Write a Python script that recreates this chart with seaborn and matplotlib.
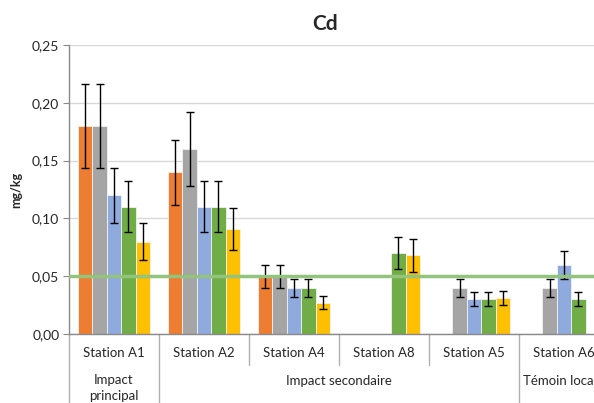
import numpy as np
import pandas as pd
import matplotlib
matplotlib.use("Agg")
import matplotlib.pyplot as plt
import seaborn as sns

stations = ["Station A1", "Station A2", "Station A4", "Station A8", "Station A5", "Station A6"]
series = ["S1", "S2", "S3", "S4", "S5"]
colors = ["#ED7D31", "#A5A5A5", "#8FAADC", "#70AD47", "#FFC000"]

v_s1 = [0.18, 0.14, 0.05, np.nan, np.nan, np.nan]
v_s2 = [0.18, 0.16, 0.05, np.nan, 0.04, 0.04]
v_s3 = [0.12, 0.11, 0.04, np.nan, 0.03, 0.06]
v_s4 = [0.11, 0.11, 0.04, 0.07, 0.03, 0.03]
v_s5 = [0.08, 0.091, 0.027, 0.068, 0.031, np.nan]

e_s1 = [0.036, 0.028, 0.010, np.nan, np.nan, np.nan]
e_s2 = [0.036, 0.032, 0.010, np.nan, 0.008, 0.008]
e_s3 = [0.024, 0.022, 0.008, np.nan, 0.006, 0.012]
e_s4 = [0.022, 0.022, 0.008, 0.014, 0.006, 0.006]
e_s5 = [0.016, 0.018, 0.0055, 0.014, 0.006, np.nan]

groups = ["Impact\nprincipal", "Impact secondaire", "Témoin local"]
group_spans = [(0, 0), (1, 4), (5, 5)]
threshold = 0.05
yticks = [0.0, 0.05, 0.10, 0.15, 0.20, 0.25]
ytick_labels = ["0,00", "0,05", "0,10", "0,15", "0,20", "0,25"]

vals = [v_s1, v_s2, v_s3, v_s4, v_s5]
errs = [e_s1, e_s2, e_s3, e_s4, e_s5]
rows = []
for s, vv, ee in zip(series, vals, errs):
    for st, v, e in zip(stations, vv, ee):
        rows.append({"station": st, "serie": s, "value": v, "err": e})
df = pd.DataFrame(rows)

sns.set_style("white")
plt.rcParams["font.family"] = ["Lato", "DejaVu Sans"]

fig = plt.figure(figsize=(5.94, 4.03), dpi=100)
ax = fig.add_axes([69/594, 1-334/403, 540/594, 289/403])

sns.barplot(data=df.dropna(subset=["value"]), x="station", y="value", hue="serie",
            order=stations, hue_order=series, palette=colors, errorbar=None,
            width=0.8, linewidth=0.6, edgecolor="#F2F2F2", saturation=1,
            ax=ax, legend=False)

# error bars from bar geometry
lookup = {(r.station, r.serie): r.err for r in df.itertuples()}
for cont, s in zip(ax.containers, series):
    for bar in cont:
        xc = bar.get_x() + bar.get_width() / 2
        h = bar.get_height()
        if np.isnan(h):
            continue
        idx = int(round(xc))
        e = lookup[(stations[idx], s)]
        ax.errorbar(xc, h, yerr=e, color="black", capsize=3, elinewidth=1,
                    capthick=1, fmt="none", zorder=5)

ax.axhline(threshold, color="#93C47D", lw=2.5, zorder=6)

ax.set_ylim(0, 0.25)
ax.set_xlim(-0.5, 5.5)
ax.set_yticks(yticks)
ax.set_yticklabels(ytick_labels, fontsize=10)
ax.yaxis.grid(True, color="#D9D9D9", lw=1)
ax.set_axisbelow(True)
for sp in ["top", "right"]:
    ax.spines[sp].set_visible(False)
for sp in ["left", "bottom"]:
    ax.spines[sp].set_color("#898989")
    ax.spines[sp].set_linewidth(1)
ax.tick_params(axis="y", length=4, color="#898989", left=True, pad=3)
ax.tick_params(axis="x", length=0, labelbottom=False)
ax.set_xlabel("")
ax.set_ylabel("mg/kg", fontsize=9, fontweight="bold", labelpad=7)
ax.set_title("Cd", fontsize=15, fontweight="bold", pad=11, x=(325-69)/540)

trans = matplotlib.transforms.blended_transform_factory(ax.transData, ax.transAxes)
axh = 289.0
for i, st in enumerate(stations):
    ax.text(i, -19/axh, st, transform=trans, ha="center", va="center", fontsize=9.5, clip_on=False)
# separators
for b in range(6):
    xb = b - 0.5
    long = xb in (-0.5, 0.5, 4.5)
    y1 = -80/axh if long else -31/axh
    ax.plot([xb, xb], [0, y1], transform=trans, color="#B0B0B0", lw=1, clip_on=False)
for g, (a, b) in zip(groups, group_spans):
    xc = (a + b) / 2
    if g == "Témoin local":
        ax.text(xc - 0.46, -47/axh, g, transform=trans, ha="left", va="center", fontsize=9.5, clip_on=False)
    elif "\n" in g:
        ax.text(xc, -40/axh, g, transform=trans, ha="center", va="top", fontsize=9.5,
                clip_on=False, linespacing=1.4)
    else:
        ax.text(xc, -47/axh, g, transform=trans, ha="center", va="center", fontsize=9.5, clip_on=False)

fig.savefig("out.png", dpi=100)
